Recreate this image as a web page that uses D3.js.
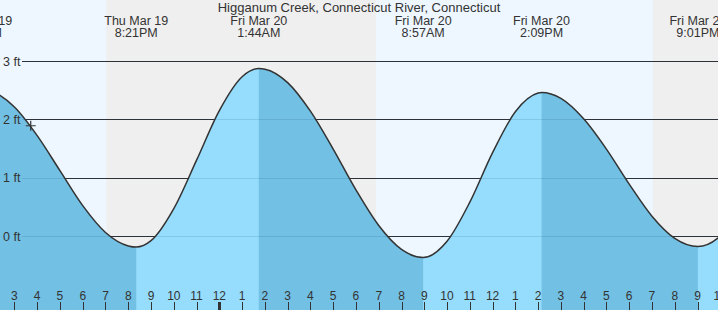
<!DOCTYPE html>
<html>
<head>
<meta charset="utf-8">
<script src="https://cdn.jsdelivr.net/npm/d3@7"></script>
<style>
  body { margin: 0; background: #fff; }
  svg { display: block; font-family: "Liberation Sans", Arial, sans-serif; }
</style>
</head>
<body>
<div id="chart"></div>
<script>
// tide extremes (high / low)
var extremeTimes  = ["2026-03-19 13:30", "2026-03-19 20:21", "2026-03-20 01:44", "2026-03-20 08:57",
                     "2026-03-20 14:09", "2026-03-20 21:01", "2026-03-21 03:12"];
var extremeLevels = [2.52, -0.19, 2.87, -0.37, 2.46, -0.18, 2.80];
var extremeTypes  = ["H", "L", "H", "L", "H", "L", "H"];
var extremeDays   = ["Thu Mar 19", "Thu Mar 19", "Fri Mar 20", "Fri Mar 20", "Fri Mar 20", "Fri Mar 20", "Sat Mar 21"];
var extremeClock  = ["1:30PM", "8:21PM", "1:44AM", "8:57AM", "2:09PM", "9:01PM", "3:12AM"];

// hourly water level, Thu 14:00 .. Fri 23:00 (ft)
var hourStart   = "2026-03-19 14:00";
var hourLevels  = [2.48, 2.21, 1.72, 1.12, 0.52, 0.06, -0.17, -0.08, 0.47, 1.30,
                   2.15, 2.73, 2.86, 2.63, 2.14, 1.49, 0.79, 0.18, -0.23, -0.37,
                   -0.09, 0.58, 1.43, 2.13, 2.45, 2.36, 2.01, 1.49, 0.89, 0.34,
                   -0.04, -0.18, 0.00, 0.51];

// daylight periods
var dayStarts = ["2026-03-19 06:55", "2026-03-20 06:53"];
var dayEnds   = ["2026-03-19 19:02", "2026-03-20 19:02"];

var levelTicks  = [0, 1, 2, 3];
var levelLabels = ["0 ft", "1 ft", "2 ft", "3 ft"];

var nowTime  = "2026-03-19 15:43";
var nowLevel = 1.89;

var title = "Higganum Creek, Connecticut River, Connecticut";

var width  = 718,
    height = 310;

var parse = d3.timeParse("%Y-%m-%d %H:%M");

var x = d3.scaleTime()
    .domain([parse("2026-03-19 14:22"), parse("2026-03-20 21:54")])
    .range([0, width]);

var y = d3.scaleLinear()
    .domain([0, 3])
    .range([236, 61]);

// merge hourly readings with the extremes
var extremes = extremeTimes.map(function(t, i) {
  return { time: parse(t), level: extremeLevels[i], type: extremeTypes[i],
           day: extremeDays[i], clock: extremeClock[i] };
});
var t0 = parse(hourStart);
var hourly = hourLevels.map(function(v, i) {
  return { time: d3.timeHour.offset(t0, i), level: v };
}).filter(function(d) {
  return !extremes.some(function(e) { return Math.abs(e.time - d.time) < 6 * 60000; });
});
var points = hourly.concat(extremes).sort(function(a, b) { return a.time - b.time; });

var svg = d3.select("#chart")
  .append("svg")
  .attr("width", width)
  .attr("height", height);

var defs = svg.append("defs");

// night background, then daylight bands
svg.append("rect")
  .attr("width", width)
  .attr("height", height)
  .style("fill", "#efefef");

svg.selectAll("rect.day")
  .data(dayStarts)
  .enter().append("rect")
  .attr("class", "day")
  .attr("x", function(d) { return x(parse(d)); })
  .attr("y", 0)
  .attr("width", function(d, i) { return x(parse(dayEnds[i])) - x(parse(d)); })
  .attr("height", height)
  .style("fill", "#eef7ff");

// grid lines
svg.selectAll("line.grid")
  .data(levelTicks)
  .enter().append("line")
  .attr("class", "grid")
  .attr("x1", 22)
  .attr("x2", width)
  .attr("y1", function(d) { return Math.round(y(d)) + 0.5; })
  .attr("y2", function(d) { return Math.round(y(d)) + 0.5; })
  .style("stroke", "#333")
  .style("stroke-width", 1);

// water
var area = d3.area()
  .x(function(d) { return x(d.time); })
  .y0(height)
  .y1(function(d) { return y(d.level); })
  .curve(d3.curveMonotoneX);

var line = d3.line()
  .x(function(d) { return x(d.time); })
  .y(function(d) { return y(d.level); })
  .curve(d3.curveMonotoneX);

svg.append("path")
  .datum(points)
  .attr("d", area)
  .style("fill", "#72c0e4");

// rising tide sections (low -> next high) in lighter blue
extremes.forEach(function(e, i) {
  if (e.type != "L" || !extremes[i + 1]) return;
  var id = "rise" + i;
  defs.append("clipPath").attr("id", id)
    .append("rect")
    .attr("x", x(e.time))
    .attr("y", 0)
    .attr("width", x(extremes[i + 1].time) - x(e.time))
    .attr("height", height);
  svg.append("path")
    .datum(points)
    .attr("d", area)
    .attr("clip-path", "url(#" + id + ")")
    .style("fill", "#96dcfc");
});

// faint grid lines seen through the water
svg.selectAll("line.gridwater")
  .data(levelTicks)
  .enter().append("line")
  .attr("class", "gridwater")
  .attr("x1", 22)
  .attr("x2", width)
  .attr("y1", function(d) { return Math.round(y(d)) + 0.5; })
  .attr("y2", function(d) { return Math.round(y(d)) + 0.5; })
  .style("stroke", "rgba(0,50,90,0.12)")
  .style("stroke-width", 1);

svg.append("path")
  .datum(points)
  .attr("d", line)
  .style("fill", "none")
  .style("stroke", "#333")
  .style("stroke-width", 1.5);

// level labels
svg.selectAll("text.level")
  .data(levelTicks)
  .enter().append("text")
  .attr("class", "level")
  .attr("x", 3)
  .attr("y", function(d) { return y(d) + 4.5; })
  .style("font-size", "12.5px")
  .style("fill", "#333")
  .text(function(d, i) { return levelLabels[i]; });

// title and extreme labels
svg.append("text")
  .attr("x", 359)
  .attr("y", 12)
  .attr("text-anchor", "middle")
  .style("font-size", "13px")
  .style("fill", "#333")
  .text(title);

var lab = svg.selectAll("g.extreme")
  .data(extremes)
  .enter().append("g")
  .attr("class", "extreme")
  .attr("transform", function(d) { return "translate(" + x(d.time) + ",0)"; })
  .attr("text-anchor", "middle")
  .style("font-size", "12.5px")
  .style("fill", "#333");
lab.append("text").attr("y", 24.5).text(function(d) { return d.day; });
lab.append("text").attr("y", 37).text(function(d) { return d.clock; });

// hour axis along the bottom (one extra hour so the edge label shows)
var hours = d3.timeHour.range(x.domain()[0], d3.timeHour.offset(x.domain()[1], 1));
var fmtHour = d3.timeFormat("%-I");

svg.selectAll("line.tick")
  .data(hours)
  .enter().append("line")
  .attr("class", "tick")
  .attr("x1", function(d) { return Math.round(x(d)) + 0.5; })
  .attr("x2", function(d) { return Math.round(x(d)) + 0.5; })
  .attr("y1", 302)
  .attr("y2", height)
  .style("stroke", "#333")
  .style("stroke-width", function(d) { return d.getHours() == 0 ? 3 : 1; });

svg.selectAll("text.hour")
  .data(hours)
  .enter().append("text")
  .attr("class", "hour")
  .attr("x", function(d) { return x(d); })
  .attr("y", 300)
  .attr("text-anchor", "middle")
  .style("font-size", "12px")
  .style("fill", "#333")
  .text(function(d) { return fmtHour(d); });

// current time marker
var nx = x(parse(nowTime)), ny = y(nowLevel);
svg.append("path")
  .attr("d", "M" + (nx - 5) + "," + ny + "H" + (nx + 5) + "M" + nx + "," + (ny - 5) + "V" + (ny + 5))
  .style("stroke", "#333")
  .style("stroke-width", 1.2);
</script>
</body>
</html>
